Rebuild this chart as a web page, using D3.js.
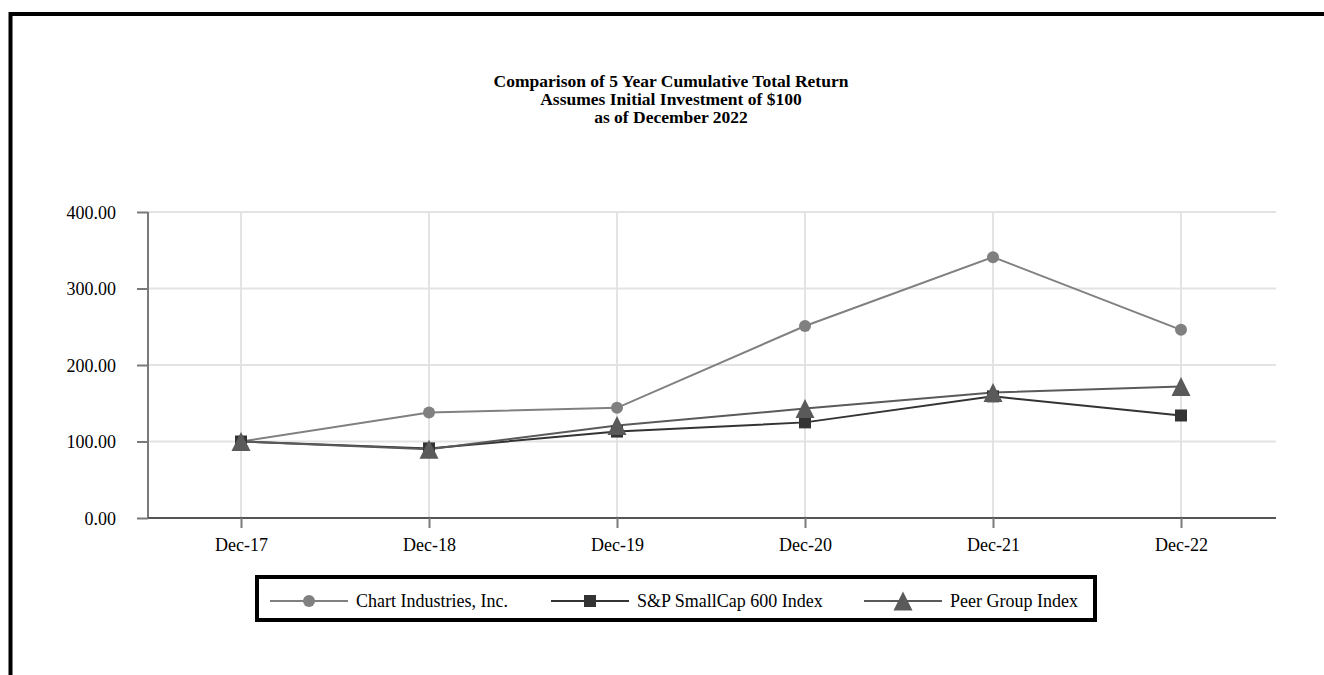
<!DOCTYPE html>
<html>
<head>
<meta charset="utf-8">
<script src="https://cdn.jsdelivr.net/npm/d3@7"></script>
<style>
  html, body { margin: 0; padding: 0; background: #fff; }
  svg { display: block; }
</style>
</head>
<body>
<div id="chart"></div>
<script>
// ---- data ----
const periods = ['Dec-17', 'Dec-18', 'Dec-19', 'Dec-20', 'Dec-21', 'Dec-22'];
const chartInd = [100, 138, 144, 251, 341, 246];
const smallCap = [100, 91, 113, 125, 159, 134];
const peerGroup = [100, 90, 121, 143, 164, 172];
const yTicks = [0, 100, 200, 300, 400];
const titleLines = ['Comparison of 5 Year Cumulative Total Return', 'Assumes Initial Investment of $100', 'as of December 2022'];

const series = [
    { name: 'Chart Industries, Inc.', values: chartInd, color: '#808080', marker: 'circle' },
    { name: 'S&P SmallCap 600 Index', values: smallCap, color: '#333333', marker: 'square' },
    { name: 'Peer Group Index', values: peerGroup, color: '#5a5a5a', marker: 'triangle' }
];

const width = 1324, height = 675;
const serif = '"Liberation Serif", "Times New Roman", serif';
const svg = d3.select('#chart').append('svg')
    .attr('width', width)
    .attr('height', height)
    .style('font-family', serif);

// outer frame (runs off right and bottom)
svg.append('path')
    .attr('d', `M10.5,${height + 5} L10.5,14 L${width + 5},14`)
    .attr('fill', 'none')
    .attr('stroke', '#000')
    .attr('stroke-width', 4);

// title
svg.append('g').selectAll('text')
    .data(titleLines)
    .enter().append('text')
    .attr('x', 671)
    .attr('y', (d, i) => 87 + i * 18)
    .attr('text-anchor', 'middle')
    .attr('font-size', '17.5px')
    .attr('font-weight', 'bold')
    .text(d => d);

const plotL = 148, plotR = 1276, plotT = 212, plotB = 518;

const x = d3.scalePoint().domain(periods).range([241, 1181]);
const y = d3.scaleLinear().domain([0, 400]).range([plotB, plotT]);

// gridlines
svg.append('g').selectAll('line')
    .data(yTicks.filter(t => t > 0))
    .enter().append('line')
    .attr('x1', plotL).attr('x2', plotR)
    .attr('y1', d => y(d)).attr('y2', d => y(d))
    .attr('stroke', '#e3e3e3').attr('stroke-width', 2);
svg.append('g').selectAll('line')
    .data(periods)
    .enter().append('line')
    .attr('x1', d => x(d)).attr('x2', d => x(d))
    .attr('y1', plotT).attr('y2', plotB)
    .attr('stroke', '#e3e3e3').attr('stroke-width', 2);

// y axis
const yAxis = svg.append('g')
    .attr('transform', `translate(${plotL},0)`)
    .call(d3.axisLeft(y).tickValues(yTicks).tickFormat(d3.format('.2f')).tickSize(11).tickPadding(21));
yAxis.select('.domain').attr('stroke', '#7a7a7a').attr('stroke-width', 2).attr('d', `M0,${plotT}V${plotB}`);
yAxis.selectAll('.tick line').attr('stroke', '#7a7a7a').attr('stroke-width', 2);
yAxis.selectAll('text').attr('font-size', '18px').attr('fill', '#000')
    .attr('font-family', serif).attr('dy', '0.36em');

// x axis
const xAxis = svg.append('g')
    .attr('transform', `translate(0,${plotB})`)
    .call(d3.axisBottom(x).tickSize(10).tickPadding(10));
xAxis.select('.domain').attr('stroke', '#555').attr('stroke-width', 2).attr('d', `M${plotL},0H${plotR}`);
xAxis.selectAll('.tick line').attr('stroke', '#7a7a7a').attr('stroke-width', 2);
xAxis.selectAll('text').attr('font-size', '18px').attr('fill', '#000')
    .attr('font-family', serif);

// lines and markers
const line = d3.line().x((d, i) => x(periods[i])).y(d => y(d));

function drawMarker(g, type, color, cx, cy) {
    if (type === 'circle') {
        g.append('circle').attr('cx', cx).attr('cy', cy).attr('r', 6).attr('fill', color);
    } else if (type === 'square') {
        g.append('rect').attr('x', cx - 6).attr('y', cy - 6)
            .attr('width', 12).attr('height', 12).attr('fill', color);
    } else {
        g.append('path')
            .attr('d', `M${cx},${cy - 9.5}L${cx + 9.5},${cy + 9.5}L${cx - 9.5},${cy + 9.5}Z`)
            .attr('fill', color);
    }
}

series.forEach(s => {
    svg.append('path')
        .datum(s.values)
        .attr('d', line)
        .attr('fill', 'none')
        .attr('stroke', s.color)
        .attr('stroke-width', 2);
});
series.forEach(s => {
    const g = svg.append('g');
    s.values.forEach((v, i) => drawMarker(g, s.marker, s.color, x(periods[i]), y(v)));
});

// legend
const legend = svg.append('g');
legend.append('rect')
    .attr('x', 257).attr('y', 577)
    .attr('width', 838).attr('height', 43)
    .attr('fill', '#fff').attr('stroke', '#000').attr('stroke-width', 4);
const legX = [270, 551, 864];
series.forEach((s, i) => {
    const lg = legend.append('g');
    lg.append('line')
        .attr('x1', legX[i]).attr('x2', legX[i] + 78)
        .attr('y1', 601).attr('y2', 601)
        .attr('stroke', s.color).attr('stroke-width', 2);
    drawMarker(lg, s.marker, s.color, legX[i] + 39, 601);
    lg.append('text')
        .attr('x', legX[i] + 86).attr('y', 607)
        .attr('font-size', '18px')
        .text(s.name);
});
</script>
</body>
</html>
